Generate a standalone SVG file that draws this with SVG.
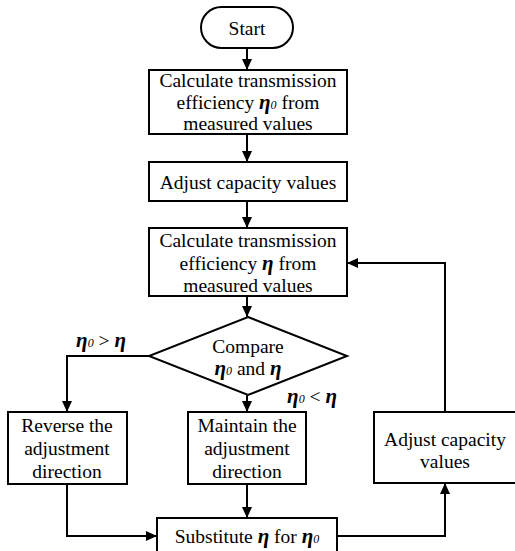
<svg xmlns="http://www.w3.org/2000/svg" width="515" height="551" viewBox="0 0 515 551">
<defs>
<style>
.box{fill:#fff;stroke:#000;stroke-width:2}
.t{font-family:"Liberation Serif","Times New Roman",serif;font-size:19.5px;fill:#000;text-anchor:middle}
.e{font-style:italic;font-weight:bold;font-size:21px}
.s{font-style:italic;font-size:12px}
.c{fill:none;stroke:#000;stroke-width:2}
</style>
<marker id="ah" markerUnits="userSpaceOnUse" markerWidth="12" markerHeight="12" viewBox="0 0 12 12" refX="11" refY="6" orient="auto">
<path d="M0,1 L11,6 L0,11 z" fill="#000"/>
</marker>
</defs>
<rect width="515" height="551" fill="#fff"/>
<g id="connectors">
<line class="c" x1="247" y1="48" x2="247" y2="70" marker-end="url(#ah)"/>
<line class="c" x1="247" y1="134" x2="247" y2="162" marker-end="url(#ah)"/>
<line class="c" x1="247" y1="201" x2="247" y2="228" marker-end="url(#ah)"/>
<line class="c" x1="247" y1="296" x2="247" y2="317" marker-end="url(#ah)"/>
<path class="c" d="M149,356 H67 V412" marker-end="url(#ah)"/>
<line class="c" x1="247" y1="395" x2="247" y2="412" marker-end="url(#ah)"/>
<line class="c" x1="247" y1="484" x2="247" y2="518" marker-end="url(#ah)"/>
<path class="c" d="M67,484 V536 H157" marker-end="url(#ah)"/>
<path class="c" d="M337,536 H445 V483" marker-end="url(#ah)"/>
<path class="c" d="M445,412 V263 H347" marker-end="url(#ah)"/>
<text class="t" x="101" y="347"><tspan class="e">η</tspan><tspan class="s">0</tspan><tspan> &gt;  </tspan><tspan class="e">η</tspan></text>
<text class="t" x="312" y="403"><tspan class="e">η</tspan><tspan class="s">0</tspan><tspan> &lt; </tspan><tspan class="e">η</tspan></text>
</g>
<g id="start">
<rect class="box" x="201" y="7" width="92" height="41" rx="20.5"/>
<text class="t" x="247" y="35">Start</text>
</g>
<g id="calc0">
<rect class="box" x="149" y="70" width="198" height="64"/>
<text class="t" x="248" y="87">Calculate transmission</text>
<text class="t" x="248" y="109">efficiency <tspan class="e">η</tspan><tspan class="s">0</tspan> from</text>
<text class="t" x="248" y="130">measured values</text>
</g>
<g id="adjust1">
<rect class="box" x="149" y="162" width="198" height="39"/>
<text class="t" x="248" y="189">Adjust capacity values</text>
</g>
<g id="calc">
<rect class="box" x="149" y="228" width="198" height="68"/>
<text class="t" x="248" y="247">Calculate transmission</text>
<text class="t" x="248" y="270">efficiency <tspan class="e">η</tspan> from</text>
<text class="t" x="248" y="292">measured values</text>
</g>
<g id="compare">
<polygon class="box" points="248,317 347,356 248,395 149,356"/>
<text class="t" x="248" y="353">Compare</text>
<text class="t" x="248" y="375"><tspan class="e">η</tspan><tspan class="s">0</tspan> and <tspan class="e">η</tspan></text>
</g>
<g id="reverse">
<rect class="box" x="8" y="412" width="119" height="72"/>
<text class="t" x="67" y="432">Reverse the</text>
<text class="t" x="67" y="455">adjustment</text>
<text class="t" x="67" y="478">direction</text>
</g>
<g id="maintain">
<rect class="box" x="188" y="412" width="118" height="72"/>
<text class="t" x="247" y="432">Maintain the</text>
<text class="t" x="247" y="455">adjustment</text>
<text class="t" x="247" y="478">direction</text>
</g>
<g id="substitute">
<rect class="box" x="157" y="518" width="180" height="40"/>
<text class="t" x="247" y="543">Substitute <tspan class="e">η</tspan> for <tspan class="e">η</tspan><tspan class="s">0</tspan></text>
</g>
<g id="adjust2">
<rect class="box" x="374" y="412" width="145" height="71"/>
<text class="t" x="445" y="446">Adjust capacity</text>
<text class="t" x="445" y="468">values</text>
</g>
</svg>
